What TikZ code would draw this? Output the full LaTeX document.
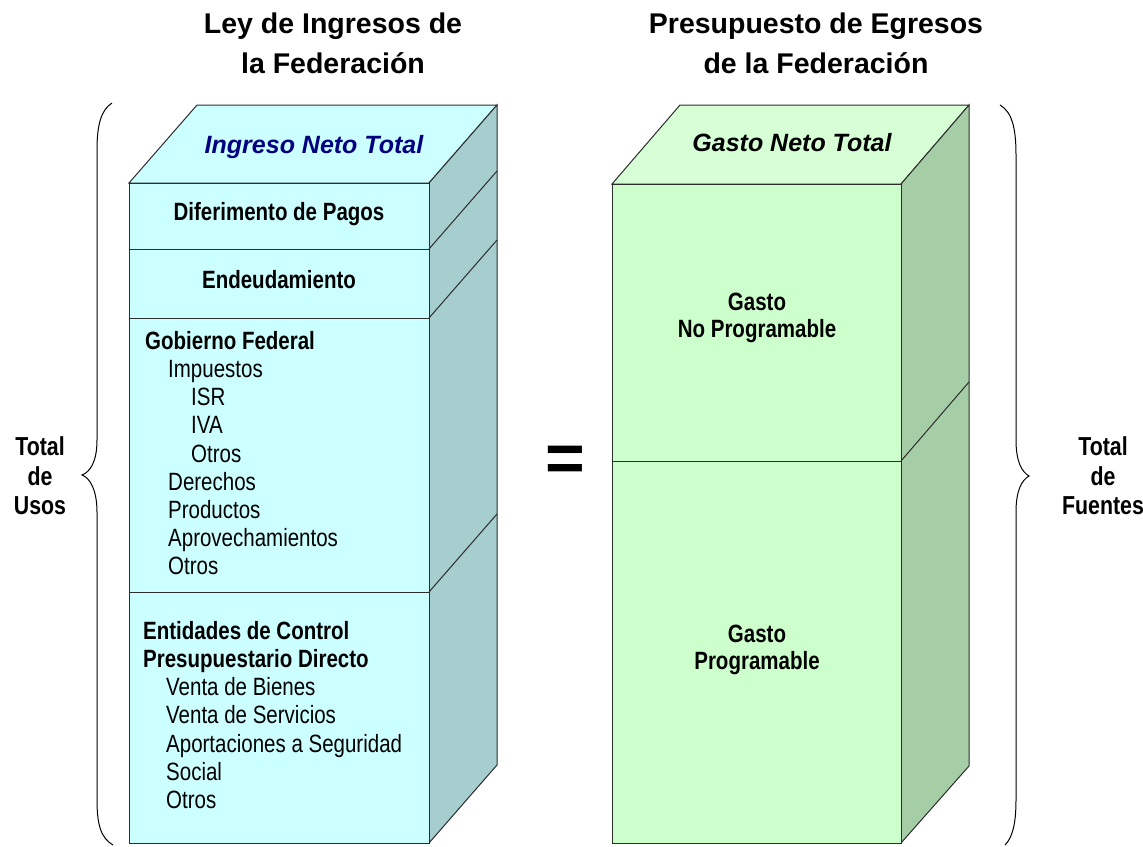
\documentclass[tikz,border=0pt]{standalone}
\usepackage{fontspec}
\setmainfont{Liberation Sans}
\newfontfamily\narrow[FakeStretch=0.82]{Liberation Sans}
\definecolor{cyanfront}{RGB}{204,255,255}
\definecolor{cyanside}{RGB}{166,206,206}
\definecolor{greenfront}{RGB}{204,255,204}
\definecolor{greentop}{RGB}{214,255,214}
\definecolor{greenside}{RGB}{166,206,166}
\definecolor{edgegray}{RGB}{45,45,45}
\definecolor{navyblue}{RGB}{0,0,128}
\newcommand{\ind}{\hspace*{23pt}}

\begin{document}
\begin{tikzpicture}[x=1pt,y=-1pt,
        face/.style={draw=edgegray,line width=1pt},
        title/.style={font=\fontsize{28.5}{40}\selectfont\bfseries,align=center},
        head/.style={font=\fontsize{25}{28}\selectfont\bfseries\itshape},
        bolditem/.style={font=\narrow\fontsize{25}{27}\selectfont\bfseries,align=center,inner sep=0pt},
        item/.style={font=\narrow\fontsize{25}{28.2}\selectfont,align=left,inner sep=0pt,anchor=north west},
        sidetext/.style={font=\narrow\fontsize{26}{29.5}\selectfont\bfseries,align=center},
        brace/.style={draw,line width=1pt}]

    \useasboundingbox (0,0) rectangle (1143,846);

    % left box
    \path[face,fill=cyanfront] (129,183) -- (197,105) -- (497,105) -- (429,183) -- cycle;
    \path[face,fill=cyanside] (429,183) -- (497,105) -- (497,765) -- (429,843) -- cycle;
    \foreach \ya/\yb in {183/249,249/318,318/592,592/843}
        \path[face,fill=cyanfront] (129,\ya) rectangle (429,\yb);
    \foreach \y in {249,318,592}
        \draw[face] (429,\y) -- ++(68,-78);

    % right box
    \path[face,fill=greentop] (612,184) -- (680,105) -- (969,105) -- (901,184) -- cycle;
    \path[face,fill=greenside] (901,184) -- (969,105) -- (969,766) -- (901,843) -- cycle;
    \path[face,fill=greenfront] (612,184) rectangle (901,461);
    \path[face,fill=greenfront] (612,461) rectangle (901,843);
    \draw[face] (901,461) -- ++(68,-79);

    \node[title] (ley) at (333,43) {Ley de Ingresos de\\la Federación};
    \node[title] (pef) at (816,43) {Presupuesto de Egresos\\de la Federación};

    \node[head,text=navyblue] (ingreso) at (314,147) {Ingreso Neto Total};
    \node[head] (gastotot) at (792,143) {Gasto Neto Total};

    \node[bolditem] (diferimento) at (279,214) {Diferimento de Pagos};
    \node[bolditem] (endeudamiento) at (279,280) {Endeudamiento};
    \node[item] (gobierno) at (145,331) {\textbf{Gobierno Federal}\\
        \ind Impuestos\\ \ind\ind ISR\\ \ind\ind IVA\\ \ind\ind Otros\\
        \ind Derechos\\ \ind Productos\\ \ind Aprovechamientos\\ \ind Otros};
    \node[item] (entidades) at (143,621) {\textbf{Entidades de Control}\\
        \textbf{Presupuestario Directo}\\ \ind Venta de Bienes\\
        \ind Venta de Servicios\\ \ind Aportaciones a Seguridad\\
        \ind Social\\ \ind Otros};

    \node[bolditem] (noprog) at (757,318) {Gasto\\No Programable};
    \node[bolditem] (prog) at (757,650) {Gasto\\Programable};

    \node (igual) at (565,464) {\fontsize{68}{68}\selectfont\bfseries =};

    \node[sidetext] (usos) at (40,476) {Total\\de\\Usos};
    \node[sidetext] (fuentes) at (1103,476) {Total\\de\\Fuentes};

    % braces
    \draw[brace] (112,103) .. controls (101,110) and (97,125) .. (97,150) -- (97,440)
        .. controls (97,462) and (90,472) .. (82,475) .. controls (90,478) and (97,490) .. (97,512)
        -- (97,800) .. controls (97,825) and (101,838) .. (113,845);
    \draw[brace] (1000,105) .. controls (1012,112) and (1016,128) .. (1016,155) -- (1016,440)
        .. controls (1016,462) and (1022,472) .. (1029,476) .. controls (1022,480) and (1016,490) .. (1016,512)
        -- (1016,800) .. controls (1016,825) and (1012,838) .. (1005,845);

\end{tikzpicture}
\end{document}
